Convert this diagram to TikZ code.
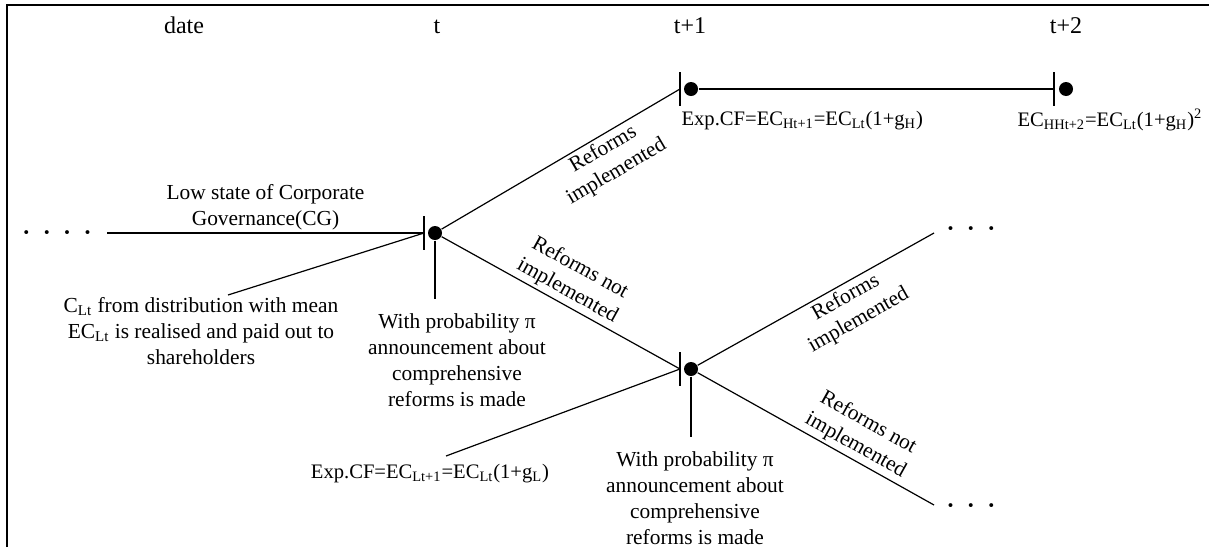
\documentclass[tikz,border=0pt]{standalone}
\usepackage{fontspec}
\setmainfont{Liberation Serif}

\begin{document}
\begin{tikzpicture}[x=0.5pt, y=-0.5pt, line width=0.6pt,
		font=\fontsize{10.7}{13}\selectfont,
		state/.style={circle, fill, inner sep=0pt, minimum size=7pt},
		note/.style={align=center, inner sep=0pt},
		formula/.style={inner sep=0pt, font=\fontsize{10.3}{13}\selectfont},
		branch/.style={sloped, align=center, inner sep=1.5pt},
		datelabel/.style={anchor=base, font=\fontsize{12}{14}\selectfont},
		trail/.style={font=\fontsize{12}{14}\selectfont\bfseries}]
		\useasboundingbox (0,0) rectangle (1209,547);
		\draw[line width=1.2pt] (7,547) -- (7,5) -- (1209,5);
		
		% dates
		\node[datelabel] (date) at (184,33) {date};
		\node[datelabel] (lt) at (437,33) {t};
		\node[datelabel] (lt1) at (690,33) {t+1};
		\node[datelabel] (lt2) at (1066,33) {t+2};
		
		% decision points and their ticks
		\node[state] (nt) at (435,233) {};
		\node[state] (nh1) at (691,89) {};
		\node[state] (nh2) at (1066,89) {};
		\node[state] (nl1) at (691,369) {};
		\coordinate (kt) at (424,233);
		\coordinate (kh1) at (680,89);
		\coordinate (kh2) at (1054,89);
		\coordinate (kl1) at (680,369);
		\foreach \k in {kt,kh1,kh2,kl1}
			\draw (\k) ++(0,-17) -- ++(0,34);
		
		% trailing dots
		\node[trail] (dl) at (57,236) {·\hspace{6.2pt}·\hspace{6.2pt}·\hspace{6.2pt}·};
		\node[trail] (du) at (971,232) {·\hspace{6.2pt}·\hspace{6.2pt}·};
		\node[trail] (dd) at (971,509) {·\hspace{6.2pt}·\hspace{6.2pt}·};
		\coordinate (start) at (107,233);
		\coordinate (uend) at (934,233);
		\coordinate (dend) at (934,505);
		\coordinate (tdown) at (435,299);
		\coordinate (ldown) at (691,437);
		\coordinate (clend) at (228,295);
		\coordinate (glend) at (446,456);
		
		% texts
		\node[note, anchor=north] (clt) at (201,297) {C\textsubscript{Lt} from distribution with mean\\EC\textsubscript{Lt} is realised and paid out to\\shareholders};
		\node[note, anchor=north] (annt) at (457,313) {With probability π\\announcement about\\comprehensive\\reforms is made};
		\node[note, anchor=north] (annl) at (695,451) {With probability π\\announcement about\\comprehensive\\reforms is made};
		\node[formula, anchor=base west] (cfh) at (681,125) {Exp.CF=EC\textsubscript{Ht+1}=EC\textsubscript{Lt}(1+g\textsubscript{H})};
		\node[formula, anchor=base west] (ech) at (1017,126) {EC\textsubscript{HHt+2}=EC\textsubscript{Lt}(1+g\textsubscript{H})\textsuperscript{2}};
		\node[formula, anchor=base] (cfl) at (430,478) {Exp.CF=EC\textsubscript{Lt+1}=EC\textsubscript{Lt}(1+g\textsubscript{L})};
		
		% branches
		\draw (start) -- node[midway, above, note, inner sep=1pt] {Low state of Corporate\\Governance(CG)} (kt);
		\draw (clend) -- (kt);
		\draw (nt) -- (tdown);
		\draw (nt) -- node[pos=.65, below, branch] {Reforms\\implemented} (kh1);
		\draw (nt) -- node[pos=.5, above, branch] {Reforms not\\implemented} (kl1);
		\draw (nh1) -- (kh2);
		\draw (glend) -- (kl1);
		\draw (nl1) -- (ldown);
		\draw (nl1) -- node[pos=.6, below, branch] {Reforms\\implemented} (uend);
		\draw (nl1) -- node[pos=.64, above, branch] {Reforms not\\implemented} (dend);
	\end{tikzpicture}
\end{document}
